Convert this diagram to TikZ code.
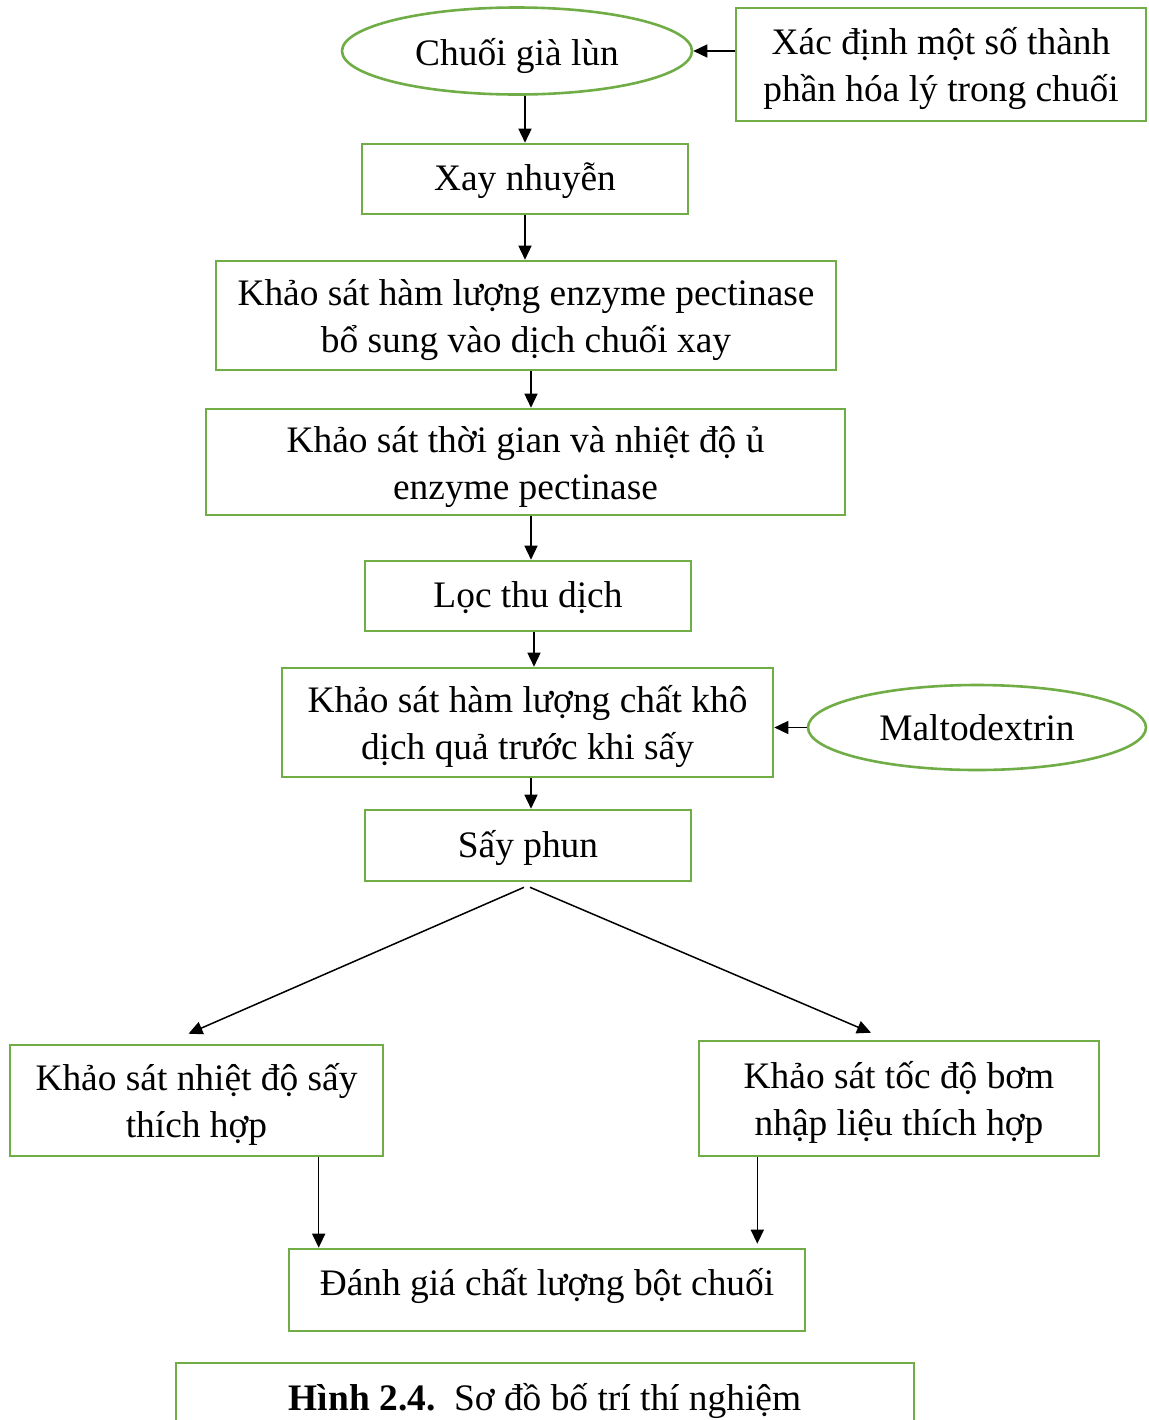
\documentclass[tikz,border=0pt]{standalone}
\usepackage{fontspec}
\setmainfont{Liberation Serif}
\usetikzlibrary{shapes.geometric,arrows.meta}
\definecolor{gbord}{HTML}{70AD47}
\newcommand{\tl}[2][-2.2pt]{\raisebox{#1}[\height][\depth]{\begin{tabular}{@{}c@{}}#2\end{tabular}}}
\begin{document}
\begin{tikzpicture}[x=0.5pt,y=-0.5pt,
  every node/.style={font=\fontsize{18.7}{23.5}\selectfont, align=center, inner sep=0pt},
  box/.style={draw=gbord, line width=1.3pt, rectangle},
  oval/.style={draw=gbord, line width=1.3pt, ellipse},
  arr/.style={-{Triangle[length=7pt,width=6.5pt]}, line width=0.75pt, black}]
\useasboundingbox (0,0) rectangle (1148,1420);
\node[oval, minimum width=175pt, minimum height=43.5pt] (ell) at (517,51) {\tl[-2.4pt]{Chuối già lùn}};
\node[box, minimum width=205pt, minimum height=56.5pt] (xac) at (941,64.5) {\tl[-1.8pt]{Xác định một số thành\\phần hóa lý trong chuối}};
\node[box, minimum width=163pt, minimum height=35pt] (xay) at (525,179) {\tl[-1pt]{Xay nhuyễn}};
\node[box, minimum width=310pt, minimum height=54.5pt] (ks1) at (526,315.5) {\tl{Khảo sát hàm lượng enzyme pectinase\\bổ sung vào dịch chuối xay}};
\node[box, minimum width=319.5pt, minimum height=53pt] (ks2) at (525.5,462) {\tl{Khảo sát thời gian và nhiệt độ ủ\\enzyme pectinase}};
\node[box, minimum width=163pt, minimum height=35pt] (loc) at (528,596) {\tl[-1pt]{Lọc thu dịch}};
\node[box, minimum width=245.5pt, minimum height=54.5pt] (ks3) at (527.5,722.5) {\tl{Khảo sát hàm lượng chất khô\\dịch quả trước khi sấy}};
\node[oval, minimum width=169pt, minimum height=42.5pt] (malto) at (977,727.5) {\tl[-1.8pt]{Maltodextrin}};
\node[box, minimum width=163pt, minimum height=35.5pt] (say) at (528,845.5) {\tl[-1.2pt]{Sấy phun}};
\node[box, minimum width=186.5pt, minimum height=55.5pt] (ks4) at (196.5,1100.5) {\tl[-2pt]{Khảo sát nhiệt độ sấy\\thích hợp}};
\node[box, minimum width=200pt, minimum height=57.5pt] (ks5) at (899,1098.5) {\tl[-1.8pt]{Khảo sát tốc độ bơm\\nhập liệu thích hợp}};
\node[box, minimum width=258pt, minimum height=41pt] (dg) at (547,1290) {\tl[2pt]{Đánh giá chất lượng bột chuối}};
\node[box, minimum width=369pt, minimum height=38.5pt] (cap) at (545,1401.5) {\tl[0pt]{{\bfseries Hình 2.4.}\ \ Sơ đồ bố trí thí nghiệm}};
% connectors
\draw[arr] (xac.west |- ell.east) -- (ell.east);
\draw[arr] (xay.north |- ell.south) -- (xay.north);
\draw[arr] (xay.south) -- (xay.south |- ks1.north);
\coordinate (c1) at ([xshift=2.5pt]ks1.south);
\draw[arr] (c1) -- (c1 |- ks2.north);
\coordinate (c3) at ([xshift=1.5pt]loc.north);
\draw[arr] (c3 |- ks2.south) -- (c3);
\coordinate (c2) at ([xshift=3pt]loc.south);
\draw[arr] (c2) -- (c2 |- ks3.north);
\coordinate (c4) at ([xshift=1.5pt]say.north);
\draw[arr] (c4 |- ks3.south) -- (c4);
\draw[arr] (malto.west) -- (malto.west -| ks3.east);
\draw[arr] ([xshift=-2pt,yshift=-2.5pt]say.south) -- ([xshift=-4pt,yshift=5pt]ks4.north);
\draw[arr] ([xshift=1pt,yshift=-2.5pt]say.south) -- ([xshift=-14pt,yshift=3.5pt]ks5.north);
\coordinate (d1) at ([xshift=15.5pt]dg.north west);
\coordinate (d2) at ([xshift=-24.5pt,yshift=2pt]dg.north east);
\draw[arr] (d1 |- ks4.south) -- (d1);
\draw[arr] (d2 |- ks5.south) -- (d2);
\end{tikzpicture}
\end{document}
